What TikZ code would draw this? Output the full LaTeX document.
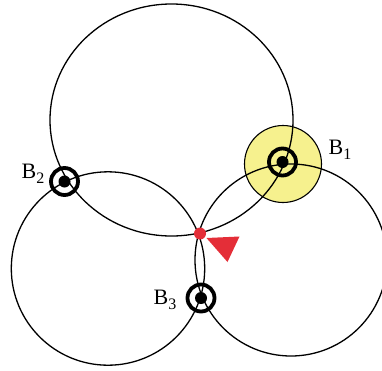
\documentclass[tikz,border=0pt]{standalone}
\usepackage{amsmath}
\usepackage{fontspec}
\setmainfont{Liberation Serif}
\usepackage{tikz}
\usetikzlibrary{arrows.meta, positioning}

\definecolor{zoneyellow}{RGB}{246,241,142}
\definecolor{posred}{RGB}{228,46,56}

\newcommand{\bname}[1]{B\raisebox{-0.22em}{\fontsize{16}{16}\selectfont #1}}

\begin{document}
\begin{tikzpicture}[
  x=1pt, y=-1pt,
  orbit/.style={draw, line width=1.3pt},
  zone/.style={draw, circle, fill=zoneyellow, line width=1.1pt, minimum size=77pt, inner sep=0pt},
  beacon/.style={draw, circle, line width=3.8pt, minimum size=27pt, inner sep=0pt},
  lbl/.style={font=\fontsize{22}{24}\selectfont, inner sep=0pt}
]
\useasboundingbox (0,0) rectangle (382,370);
\clip (0,0) rectangle (382,370);

% coverage zone round B1
\node[zone] (zone1) at (283,164) {};

% the three position circles
\draw[orbit] (171.5,120) ellipse [x radius=121.5pt, y radius=116pt];
\draw[orbit] (108,268.5) circle [radius=96.7pt];
\draw[orbit] (291,260) circle [radius=96pt];

% beacons
\node[beacon] (b1) at (282.5,162) {};
\node[beacon] (b2) at (64.5,181.5) {};
\node[beacon] (b3) at (201,298) {};
\foreach \b in {b1,b2,b3}
  \fill (\b) circle [radius=6pt];

\node[lbl] (l1) at (340,150) {\bname{1}};
\node[lbl] (l2) at (33,174) {\bname{2}};
\node[lbl] (l3) at (165,300) {\bname{3}};

% estimated position and heading
\coordinate (pos) at (200,233.5);
\fill[posred] (pos) circle [radius=6pt];
\fill[posred] (206.5,238) -- (239.5,236.5) -- (227.5,262) -- cycle;
\end{tikzpicture}
\end{document}
